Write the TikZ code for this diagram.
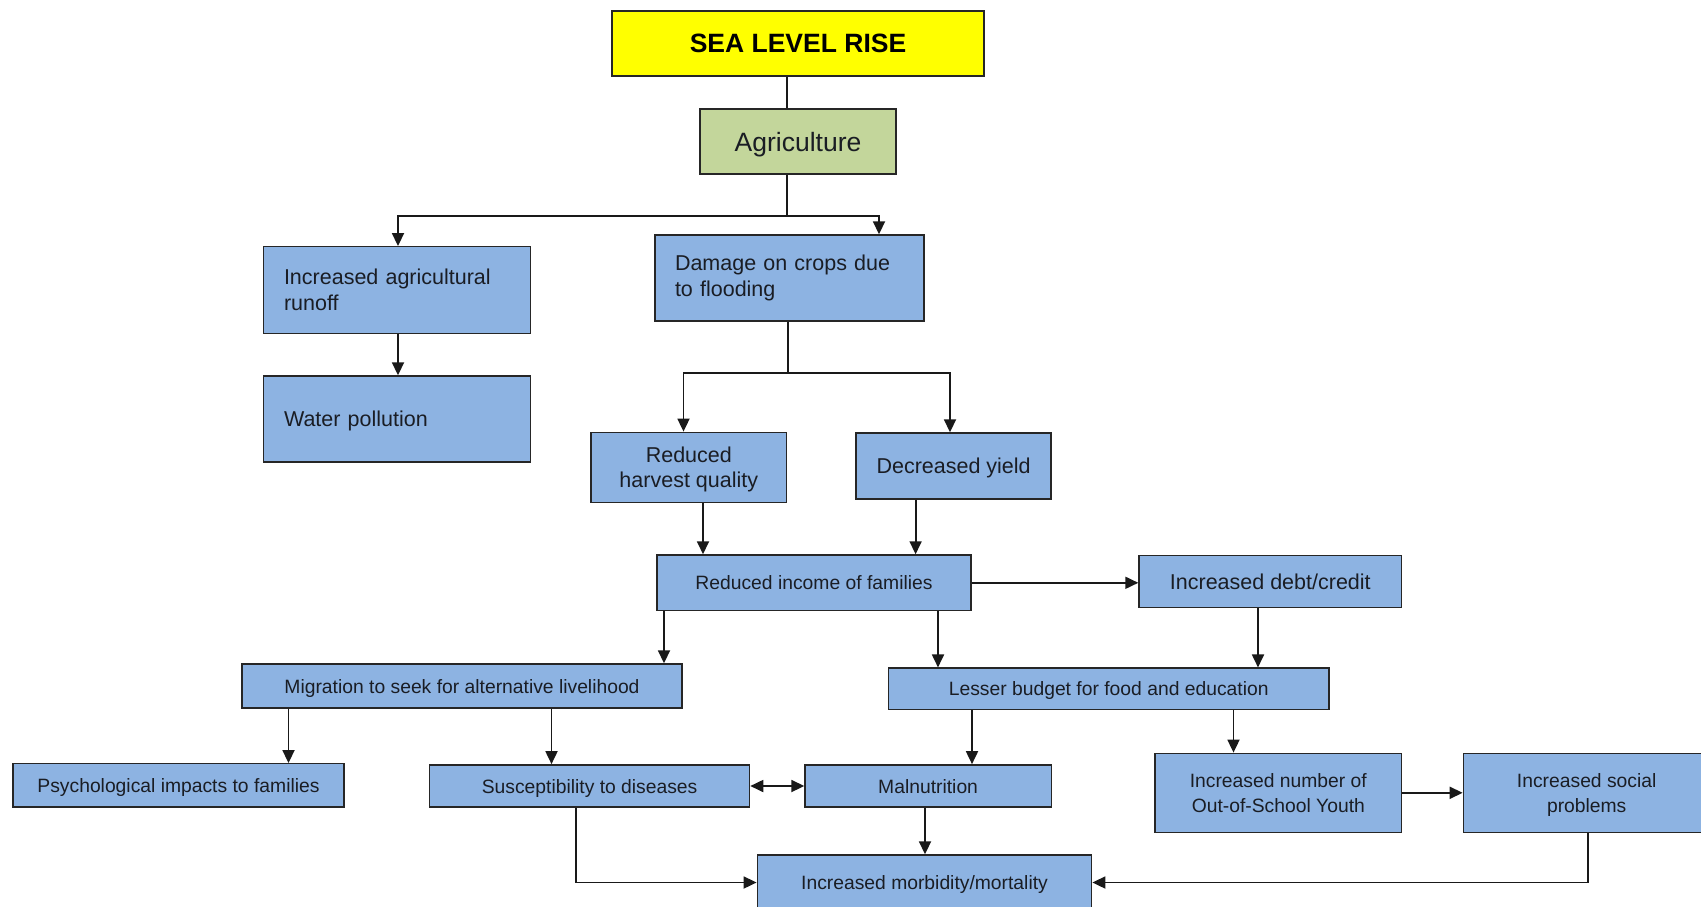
\documentclass[tikz,border=0pt]{standalone}
\usepackage{fontspec}
\setmainfont{Liberation Sans}
\usetikzlibrary{arrows.meta}

\definecolor{boxblue}{HTML}{8DB3E2}
\definecolor{boxgreen}{HTML}{C3D69B}
\definecolor{boxyellow}{HTML}{FFFF00}
\definecolor{inkdark}{HTML}{1A1D24}

\tikzset{
  basebox/.style={draw=black!85, line width=1.4pt, fill=boxblue, text=inkdark,
    inner sep=0pt, align=center, font=\fontsize{19.3}{25}\selectfont},
  box/.style={basebox, text depth=0pt},
  bigtext/.style={font=\fontsize{21.5}{25.5}\selectfont},
  leftbox/.style={basebox, align=left, inner xsep=20pt, text width=#1},
  link/.style={line width=1.8pt, draw=black!90},
  arr/.style={link, -{Triangle[length=13pt,width=12pt]}},
  biarr/.style={link, {Triangle[length=13pt,width=12pt]}-{Triangle[length=13pt,width=12pt]}},
}

\begin{document}
\begin{tikzpicture}[x=1pt, y=-1pt]
\useasboundingbox (0,0) rectangle (1701,906);
\clip (0,0) rectangle (1701,906);

% ---- boxes ----
\node[box, fill=boxyellow, text=black, minimum width=372pt, minimum height=65pt,
      font=\fontsize{26.5}{30}\selectfont\bfseries] (slr) at (798,43.5) {SEA LEVEL RISE};
\node[box, fill=boxgreen, minimum width=196pt, minimum height=65pt,
      font=\fontsize{26.5}{30}\selectfont] (agri) at (798,141.5) {Agriculture};

\node[leftbox=226pt, bigtext, minimum width=266.5pt, minimum height=86.5pt]
      (runoff) at (397,290) {Increased agricultural\\runoff};
\node[box, bigtext, align=left, inner xsep=20pt, text width=226pt,
      minimum width=266.5pt, minimum height=86pt]
      (water) at (397,419) {Water pollution};
\node[leftbox=229pt, bigtext, minimum width=267pt, minimum height=86pt]
      (damage) at (789.5,278) {Damage on crops due\\to flooding};

\node[box, bigtext, minimum width=195.7pt, minimum height=70pt]
      (harvest) at (688.8,467.3) {Reduced\\harvest quality};
\node[box, bigtext, minimum width=195pt, minimum height=66pt]
      (yield) at (953.6,466) {Decreased yield};

\node[box, minimum width=314pt, minimum height=55.7pt]
      (income) at (814,582.8) {Reduced income of families};
\node[box, bigtext, minimum width=262.6pt, minimum height=52pt]
      (debt) at (1270.3,581.5) {Increased debt/credit};

\node[box, minimum width=440pt, minimum height=44pt]
      (migr) at (462,686) {Migration to seek for alternative livelihood};
\node[box, minimum width=440.4pt, minimum height=41.3pt]
      (lesser) at (1108.7,688.8) {Lesser budget for food and education};

\node[box, minimum width=331pt, minimum height=43.3pt]
      (psych) at (178.5,785.4) {Psychological impacts to families};
\node[box, minimum width=320pt, minimum height=42.3pt]
      (susc) at (589.6,786) {Susceptibility to diseases};
\node[box, minimum width=246.2pt, minimum height=42.3pt]
      (maln) at (928.1,786) {Malnutrition};
\node[box, minimum width=246.7pt, minimum height=79pt]
      (osy) at (1278.3,792.8) {Increased number of\\Out-of-School Youth};
\node[box, minimum width=246.7pt, minimum height=79pt]
      (social) at (1586.7,792.8) {Increased social\\problems};
\node[box, minimum width=334.4pt, minimum height=55pt]
      (morb) at (924.5,882.5) {Increased morbidity/mortality};

% ---- connector columns and rows ----
\coordinate (trunk)  at (786.7,216);
\coordinate (cRun)   at (398,0);
\coordinate (cDmgIn) at (879,0);
\coordinate (split2) at (787.6,373);
\coordinate (cHarv)  at (683.5,0);
\coordinate (cYield) at (950,0);
\coordinate (cHarvO) at (703,0);
\coordinate (cYieldO) at (915.6,0);
\coordinate (cMig)   at (664,0);
\coordinate (cLess)  at (938,0);
\coordinate (cDebt)  at (1258,0);
\coordinate (cPsy)   at (288.5,0);
\coordinate (cSus)   at (551.5,0);
\coordinate (cMal)   at (972,0);
\coordinate (cOsy)   at (1233.5,0);
\coordinate (cMorb)  at (925,0);
\coordinate (cSusO)  at (576,0);
\coordinate (cSocO)  at (1588,0);

% ---- connectors ----
\draw[link] (slr.south -| trunk) -- (agri.north -| trunk);
\draw[link] (agri.south -| trunk) -- (trunk);
\draw[arr] (trunk) -| (runoff.north -| cRun);
\draw[arr] (trunk) -| (damage.north -| cDmgIn);
\draw[arr] (runoff.south -| cRun) -- (water.north -| cRun);

\draw[link] (damage.south -| split2) -- (split2);
\draw[arr] (split2) -| (harvest.north -| cHarv);
\draw[arr] (split2) -| (yield.north -| cYield);

\draw[arr] (harvest.south -| cHarvO) -- (income.north -| cHarvO);
\draw[arr] (yield.south -| cYieldO) -- (income.north -| cYieldO);
\draw[arr] (income.east) -- (income.east -| debt.west);

\draw[arr] (income.south -| cMig) -- (migr.north -| cMig);
\draw[arr] (income.south -| cLess) -- (lesser.north -| cLess);
\draw[arr] (debt.south -| cDebt) -- (lesser.north -| cDebt);

\draw[arr] (migr.south -| cPsy) -- (psych.north -| cPsy);
\draw[arr] (migr.south -| cSus) -- (susc.north -| cSus);
\draw[biarr] (susc.east) -- (maln.west);
\draw[arr] (lesser.south -| cMal) -- (maln.north -| cMal);
\draw[arr] (lesser.south -| cOsy) -- (osy.north -| cOsy);
\draw[arr] (osy.east) -- (social.west);

\draw[arr] (maln.south -| cMorb) -- (morb.north -| cMorb);
\draw[arr] (susc.south -| cSusO) |- (morb.west);
\draw[arr] (social.south -| cSocO) |- (morb.east);
\end{tikzpicture}
\end{document}
